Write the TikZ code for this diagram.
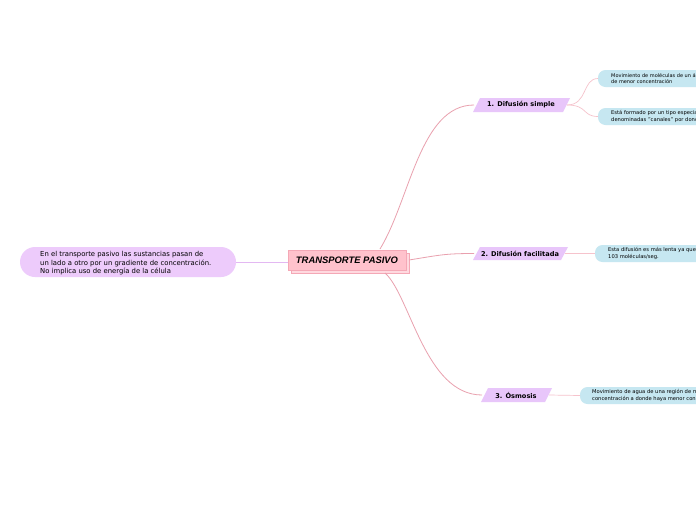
\documentclass[tikz,border=0pt]{standalone}
\usepackage{fontspec}
\setmainfont{DejaVu Sans}
\newfontfamily\titlefont{Liberation Sans}
\usetikzlibrary{calc}
\definecolor{centerpink}{HTML}{FFC2CC}
\definecolor{centerborder}{HTML}{F4A8B6}
\definecolor{shadowpink}{HTML}{FFD9DF}
\definecolor{branchpurple}{HTML}{E8C6FA}
\definecolor{leftpurple}{HTML}{EDCBFB}
\definecolor{leafblue}{HTML}{C6E7F1}
\definecolor{linkpink}{HTML}{E9A0AE}
\definecolor{leaflink}{HTML}{F6C3CC}
\definecolor{leftlink}{HTML}{E3B8F2}
\tikzset{
  link/.style={draw=linkpink, line width=0.8pt},
  leaflinkstyle/.style={draw=leaflink, line width=0.7pt},
  lefttext/.style={anchor=north west, align=left, inner sep=0pt, font=\fontsize{6.85}{8.6}\selectfont},
  branchtext/.style={inner sep=0pt, font=\fontsize{6.6}{7.5}\selectfont\bfseries},
  leaftext/.style={anchor=west, align=left, inner sep=0pt, font=\fontsize{5.2}{6.2}\selectfont},
  leafbox/.style={fill=leafblue, rounded corners=7.5pt},
}
\begin{document}
\begin{tikzpicture}[x=1pt,y=-1pt]
\useasboundingbox (0,0) rectangle (696,520);
\clip (0,0) rectangle (696,520);
\fill[white] (0,0) rectangle (696,520);

% left node
\fill[leftpurple, rounded corners=15pt] (20,247) rectangle (236,277);
\node[lefttext] (left) at (40,251) {En el transporte pasivo las sustancias pasan de\\un lado a otro por un gradiente de concentración.\\No implica uso de energía de la célula};
\coordinate (leftend) at (236,262);

% central node
\fill[shadowpink, draw=centerborder, line width=0.5pt] (291,253) rectangle (409,273);
\fill[centerpink, draw=centerborder, line width=0.5pt] (288,250) rectangle (406,270);
\node[inner sep=0pt, font=\titlefont\fontsize{9.4}{10}\selectfont\bfseries\itshape] (center) at (347,260) {TRANSPORTE PASIVO};
\coordinate (cL) at (288,262);
\coordinate (cT) at (380,249);
\coordinate (cR) at (409,260);
\coordinate (cB) at (385,273);

\draw[leftlink, line width=0.8pt] (leftend) -- (cL);

% branch nodes
\fill[branchpurple] (473,112) -- (480,98) -- (570,98) -- (563,112) -- cycle;
\node[branchtext] (b1) at (521,105) {1. Difusión simple};
\fill[branchpurple] (473,260) -- (480,247) -- (568,247) -- (561,260) -- cycle;
\node[branchtext] (b2) at (520,253.5) {2. Difusión facilitada};
\fill[branchpurple] (481,402) -- (488,388) -- (552,388) -- (545,402) -- cycle;
\node[branchtext] (b3) at (516,395) {3. Ósmosis};
\coordinate (b1L) at (474,105);
\coordinate (b1R) at (567,105);
\coordinate (b2L) at (474,253.5);
\coordinate (b2R) at (565,253.5);
\coordinate (b3L) at (482,395);
\coordinate (b3R) at (549,395);

% main connectors
\draw[link] (cT) .. controls (410,200) and (420,105) .. (b1L);
\draw[link] (cR) .. controls (440,255) and (445,253.5) .. (b2L);
\draw[link] (cB) .. controls (410,295) and (425,395) .. (b3L);

% leaves
\fill[leafbox] (598,70) rectangle (720,87);
\node[leaftext, font=\fontsize{5}{6.2}\selectfont] (l1a) at (611,78.5) {Movimiento de moléculas de un área de mayor concentración a un área\\de menor concentración};
\fill[leafbox] (598,108) rectangle (720,125);
\node[leaftext] (l1b) at (611,116.5) {Está formado por un tipo especial de proteínas\\denominadas "canales" por donde pasan};
\fill[leafbox] (595,245) rectangle (720,262);
\node[leaftext] (l2) at (608,253.5) {Esta difusión es más lenta ya que solo pasan\\103 moléculas/seg.};
\fill[leafbox] (580,387) rectangle (720,404);
\node[leaftext] (l3) at (592,395.5) {Movimiento de agua de una región de mayor\\concentración a donde haya menor concentración};
\coordinate (l1aL) at (598,78.5);
\coordinate (l1bL) at (598,116.5);
\coordinate (l2L) at (595,253.5);
\coordinate (l3L) at (580,395.5);

\draw[leaflinkstyle] (b1R) .. controls (588,105) and (582,78.5) .. (l1aL);
\draw[leaflinkstyle] (b1R) .. controls (588,105) and (582,116.5) .. (l1bL);
\draw[leaflinkstyle] (b2R) -- (l2L);
\draw[leaflinkstyle] (b3R) -- (l3L);
\end{tikzpicture}
\end{document}
